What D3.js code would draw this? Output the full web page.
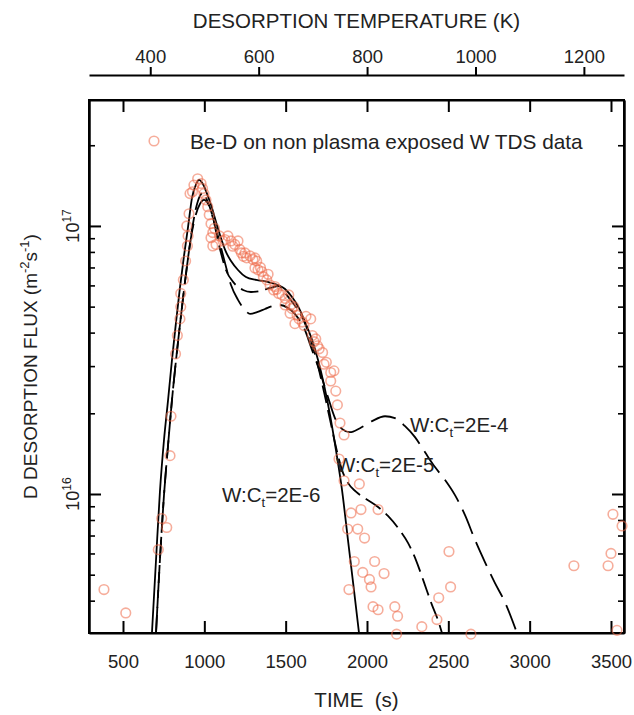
<!DOCTYPE html>
<head>
  <meta charset="utf-8">
  <script src="https://cdn.jsdelivr.net/npm/d3@7"></script>
  <style>
    body { margin:0; background:#fff; }
    text { font-family: Arial, "Liberation Sans", sans-serif; fill:#222; }
    .axis path, .axis line { stroke:#000; stroke-width:2px; }
    .minor line { stroke-width:1.6px; }
  </style>
</head>

<body>
<script>
  // flux values are in units of 1e16 m^-2 s^-1, time in s

  // TDS data points (circles)
  var tdsTime = [383, 517, 717, 738, 769, 789, 795, 823, 834, 850, 855, 855, 871, 885, 896, 900, 892, 906,
    912, 927, 936, 959, 980, 989, 998, 1010, 1021, 1041, 1052, 1041, 1052, 1072, 1093, 1115, 1145, 1164,
    1187, 1207, 1218, 1228, 1250, 1260, 1281, 1299, 1311, 1322, 1311, 1330, 1353, 1363, 1384, 1404, 1426,
    1434, 1457, 1477, 1498, 1519, 1530, 1539, 1570, 1582, 1602, 1613, 1654, 1664, 1685, 1696, 1706, 1727,
    1496, 1527, 1557, 1736, 1777, 1797, 1777, 1808, 1818, 1834, 1859, 1828, 1859, 1953, 1902, 1963, 2068,
    1881, 1943, 1985, 1922, 2047, 2504, 1974, 2015, 2105, 2025, 1889, 2514, 2441, 2037, 2068, 2171, 2188,
    2430, 2337, 2182, 2639, 3272, 3512, 3568, 3500, 3482, 3537,
    1030, 1062, 1126, 1175, 1240, 1345, 1392, 1445, 1550, 1625, 1675, 1750];
  var tdsFlux = [0.44, 0.36, 0.62, 0.81, 0.75, 1.39, 1.95, 3.33, 3.90, 4.50, 4.99, 5.60, 6.29, 7.40, 8.42, 9.18, 10.0, 11.1,
    13.2, 13.4, 14.2, 15.0, 14.4, 13.8, 13.2, 12.5, 11.8, 10.2, 9.45, 9.04, 8.42, 8.53, 9.18, 8.79, 9.18, 8.79,
    8.53, 8.79, 8.17, 7.93, 7.93, 7.60, 7.73, 7.49, 7.60, 7.40, 6.97, 6.86, 6.76, 6.47, 6.29, 6.02, 5.77,
    5.94, 5.60, 5.53, 5.36, 5.53, 5.07, 4.92, 4.64, 4.50, 4.38, 4.25, 4.50, 3.90, 3.79, 3.57, 3.48, 3.37,
    5.07, 4.72, 4.32, 3.05, 2.84, 2.88, 2.64, 2.42, 2.15, 1.84, 1.66, 1.35, 1.12, 1.09, 0.85, 0.875, 0.875,
    0.74, 0.74, 0.685, 0.56, 0.56, 0.61, 0.51, 0.48, 0.505, 0.45, 0.44, 0.45, 0.41, 0.38, 0.37, 0.38, 0.35,
    0.34, 0.32, 0.30, 0.30, 0.54, 0.84, 0.76, 0.60, 0.54, 0.31,
    11.0, 9.8, 8.9, 8.4, 7.7, 7.0, 6.6, 5.8, 5.0, 4.6, 3.7, 3.1];

  // model W:Ct=2E-6 (solid)
  var ct6Time = [678, 703, 727, 752, 777, 801, 826, 850, 875, 900, 924, 949, 967, 992, 1016, 1041, 1072, 1102,
    1133, 1164, 1207, 1256, 1318, 1391, 1453, 1496, 1539, 1582, 1619, 1662, 1699, 1736, 1773, 1809, 1846,
    1883, 1920, 1951];
  var ct6Flux = [0.303, 0.567, 1.02, 1.59, 2.24, 3.16, 4.38, 5.87, 7.73, 9.92, 12.7, 14.3, 14.85, 14.3, 13.2, 12.0,
    10.35, 9.02, 8.0, 7.4, 6.85, 6.45, 6.29, 6.18, 6.02, 5.82, 5.43, 4.94, 4.38, 3.76, 3.16, 2.55, 1.97,
    1.46, 1.04, 0.674, 0.438, 0.303];

  // model W:Ct=2E-5 (dashed)
  var ct5Time = [703, 727, 752, 777, 801, 826, 850, 875, 900, 924, 949, 973, 992, 1016, 1047, 1090, 1133, 1182,
    1238, 1287, 1342, 1404, 1459, 1502, 1545, 1588, 1625, 1662, 1699, 1736, 1773, 1809, 1846, 1883, 1932,
    1994, 2068, 2129, 2191, 2252, 2301, 2350, 2400, 2436, 2461];
  var ct5Flux = [0.303, 0.567, 0.99, 1.52, 2.24, 3.16, 4.27, 5.77, 7.60, 9.66, 11.67, 12.95, 13.3, 12.5, 11.09,
    8.49, 6.85, 6.13, 5.77, 5.67, 5.72, 5.87, 5.97, 5.57, 5.16, 4.74, 4.24, 3.63, 3.00, 2.40, 1.89, 1.50,
    1.23, 1.10, 1.02, 0.958, 0.894, 0.828, 0.747, 0.657, 0.567, 0.469, 0.385, 0.339, 0.303];

  // model W:Ct=2E-4 (long dash)
  var ct4Time = [703, 727, 752, 777, 801, 826, 850, 875, 900, 924, 949, 973, 998, 1023, 1053, 1090, 1127, 1164,
    1207, 1250, 1281, 1324, 1373, 1422, 1465, 1514, 1564, 1613, 1662, 1711, 1760, 1803, 1846, 1895, 1957,
    2031, 2111, 2172, 2234, 2295, 2357, 2418, 2479, 2541, 2602, 2664, 2725, 2787, 2848, 2922];
  var ct4Flux = [0.303, 0.567, 0.99, 1.52, 2.24, 3.16, 4.27, 5.77, 7.60, 9.50, 11.09, 12.08, 12.5, 12.08, 10.71,
    8.87, 7.28, 6.02, 5.30, 4.86, 4.70, 4.77, 4.90, 5.03, 5.07, 4.94, 4.64, 4.16, 3.45, 2.85, 2.30, 1.92,
    1.75, 1.70, 1.76, 1.87, 1.95, 1.92, 1.79, 1.63, 1.43, 1.26, 1.13, 0.99, 0.835, 0.674, 0.557, 0.465,
    0.395, 0.303];

  var timeTicks = [500, 1000, 1500, 2000, 2500, 3000, 3500];
  var tempTicks = [400, 600, 800, 1000, 1200];
  var fluxMajor = [1e16, 1e17];

  var curveNames = ["2E-6", "2E-5", "2E-4"];
  var curveLabelTime = [1109, 1809, 2264];
  var curveLabelFlux = [0.935, 1.21, 1.70];

  var UNIT = 1e16;

  var width = 634, height = 715;
  var box = {left: 89, right: 624, top: 100, bottom: 633};
  var midX = (box.left + box.right) / 2;

  var svg = d3.select("body").append("svg")
    .attr("width", width)
    .attr("height", height);

  var x = d3.scaleLinear().domain([291, 3580]).range([box.left, box.right]);
  var y = d3.scaleLog().domain([3.03e15, 2.95e17]).range([box.bottom, box.top]);
  // temperature ramp shown on the top axis
  var xT = d3.scaleLinear().domain([287, 1274]).range([box.left, box.right]);

  // minor log ticks
  var fluxMinor = [];
  [1e15, 1e16, 1e17].forEach(function(d) {
    for (var k = 2; k <= 9; k++) {
      var v = d * k;
      if (v >= y.domain()[0] && v <= y.domain()[1]) fluxMinor.push(v);
    }
  });

  // frame
  svg.append("rect")
    .attr("x", box.left).attr("y", box.top)
    .attr("width", box.right - box.left).attr("height", box.bottom - box.top)
    .attr("fill", "none").attr("stroke", "#000").attr("stroke-width", 2);

  // bottom axis
  svg.append("g").attr("class", "axis")
    .attr("transform", "translate(0," + box.bottom + ")")
    .call(d3.axisBottom(x).tickValues(timeTicks).tickFormat(d3.format("d"))
      .tickSizeInner(-12).tickSizeOuter(0).tickPadding(22))
    .call(function(g) { g.selectAll("text").style("font-size", "18.5px").attr("fill", "#222"); });

  // top mirror ticks
  svg.append("g").attr("class", "axis")
    .attr("transform", "translate(0," + box.top + ")")
    .call(d3.axisTop(x).tickValues(timeTicks).tickSizeInner(-12).tickSizeOuter(0).tickFormat(""));

  // left + right ticks
  svg.append("g").attr("class", "axis")
    .attr("transform", "translate(" + box.left + ",0)")
    .call(d3.axisLeft(y).tickValues(fluxMajor).tickSizeInner(-12).tickSizeOuter(0).tickFormat(""));
  svg.append("g").attr("class", "axis minor")
    .attr("transform", "translate(" + box.left + ",0)")
    .call(d3.axisLeft(y).tickValues(fluxMinor).tickSizeInner(-6).tickSizeOuter(0).tickFormat(""));
  svg.append("g").attr("class", "axis")
    .attr("transform", "translate(" + box.right + ",0)")
    .call(d3.axisRight(y).tickValues(fluxMajor).tickSizeInner(-12).tickSizeOuter(0).tickFormat(""));
  svg.append("g").attr("class", "axis minor")
    .attr("transform", "translate(" + box.right + ",0)")
    .call(d3.axisRight(y).tickValues(fluxMinor).tickSizeInner(-6).tickSizeOuter(0).tickFormat(""));

  // y tick labels 10^16, 10^17 (rotated)
  fluxMajor.forEach(function(v) {
    var t = svg.append("text")
      .attr("transform", "translate(79," + y(v) + ") rotate(-90)")
      .attr("text-anchor", "middle")
      .style("font-size", "18px");
    t.append("tspan").text("10");
    t.append("tspan").attr("dy", -8).style("font-size", "12px").text(Math.round(Math.log10(v)));
  });

  // temperature axis on top
  svg.append("g").attr("class", "axis")
    .attr("transform", "translate(0,75)")
    .call(d3.axisTop(xT).tickValues(tempTicks).tickFormat(d3.format("d"))
      .tickSizeInner(8).tickSizeOuter(0).tickPadding(4))
    .call(function(g) { g.selectAll("text").style("font-size", "18.5px").attr("fill", "#222"); });

  // axis titles
  svg.append("text")
    .attr("x", midX).attr("y", 28)
    .attr("text-anchor", "middle")
    .style("font-size", "20.5px")
    .text("DESORPTION TEMPERATURE (K)");

  svg.append("text")
    .attr("x", midX).attr("y", 707)
    .attr("text-anchor", "middle")
    .style("font-size", "20.5px")
    .attr("xml:space", "preserve")
    .text("TIME  (s)");

  var yt = svg.append("text")
    .attr("transform", "translate(37," + ((box.top + box.bottom) / 2) + ") rotate(-90)")
    .attr("text-anchor", "middle")
    .style("font-size", "19px");
  yt.append("tspan").text("D DESORPTION FLUX (m");
  yt.append("tspan").attr("dy", -8).style("font-size", "13px").text("-2");
  yt.append("tspan").attr("dy", 8).text("s");
  yt.append("tspan").attr("dy", -8).style("font-size", "13px").text("-1");
  yt.append("tspan").attr("dy", 8).text(")");

  // model curves
  var line = d3.line()
    .x(function(d) { return x(d[0]); })
    .y(function(d) { return y(d[1] * UNIT); })
    .curve(d3.curveMonotoneX);

  function pairs(ts, fs) { return ts.map(function(t, i) { return [t, fs[i]]; }); }

  var plot = svg.append("g");
  var models = [
    {data: pairs(ct6Time, ct6Flux), dash: null},
    {data: pairs(ct5Time, ct5Flux), dash: "18,7"},
    {data: pairs(ct4Time, ct4Flux), dash: "26,9"}
  ];
  plot.selectAll("path.model")
    .data(models)
    .enter().append("path")
    .attr("class", "model")
    .attr("d", function(d) { return line(d.data); })
    .attr("fill", "none")
    .attr("stroke", "#000")
    .attr("stroke-width", 1.8)
    .attr("stroke-dasharray", function(d) { return d.dash; });

  // data circles
  plot.selectAll("circle.tds")
    .data(pairs(tdsTime, tdsFlux))
    .enter().append("circle")
    .attr("class", "tds")
    .attr("cx", function(d) { return x(d[0]); })
    .attr("cy", function(d) { return y(d[1] * UNIT); })
    .attr("r", 4.8)
    .attr("fill", "none")
    .attr("stroke", "#ee6a48")
    .attr("stroke-opacity", 0.55)
    .attr("stroke-width", 1.6);

  // curve labels
  curveNames.forEach(function(n, i) {
    var t = svg.append("text")
      .attr("x", x(curveLabelTime[i]))
      .attr("y", y(curveLabelFlux[i] * UNIT))
      .style("font-size", "20.5px");
    t.append("tspan").text("W:C");
    t.append("tspan").attr("dy", 5).style("font-size", "13px").text("t");
    t.append("tspan").attr("dy", -5).text("=" + n);
  });

  // legend
  svg.append("circle")
    .attr("cx", 154).attr("cy", 141).attr("r", 4.8)
    .attr("fill", "none").attr("stroke", "#ee6a48")
    .attr("stroke-opacity", 0.55).attr("stroke-width", 1.6);
  svg.append("text")
    .attr("x", 190).attr("y", 149)
    .style("font-size", "20.8px")
    .text("Be-D on non plasma exposed W TDS data");
</script>
</body>
